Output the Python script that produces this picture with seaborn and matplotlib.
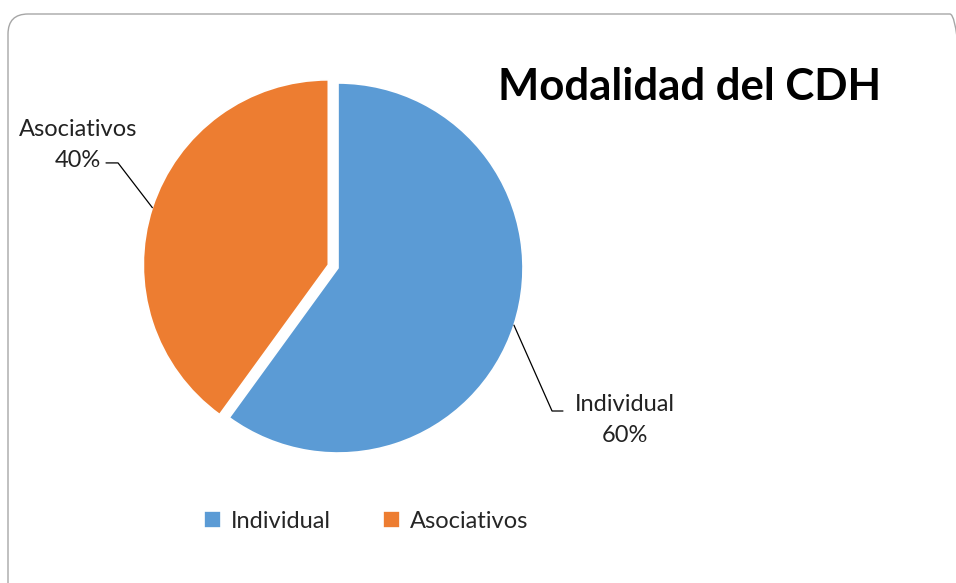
import numpy as np
import seaborn as sns
import matplotlib.pyplot as plt
from matplotlib.patches import FancyBboxPatch

sns.set_theme(style="white")
plt.rcParams['font.family'] = ['Lato', 'DejaVu Sans']

categorias = ["Individual", "Asociativos"]
valores = [60, 40]
colores = ["#5B9BD5", "#ED7D31"]
titulo = "Modalidad del CDH"

fig = plt.figure(figsize=(9.56, 5.83), dpi=100)

# marco redondeado (se sale por la derecha y por abajo)
marco = FancyBboxPatch((8 / 956, 1 - 620 / 583), 962 / 956, 606 / 583,
                       boxstyle="round,pad=0,rounding_size=0.021",
                       mutation_aspect=956 / 583,
                       transform=fig.transFigure, facecolor="none",
                       edgecolor="#A6A6A6", linewidth=1.0, clip_on=False)
fig.patches.append(marco)

ax = fig.add_axes([153 / 956, 130 / 583, 370 / 956, 370 / 583])
explode = [0, 0.055]
wedges, _ = ax.pie(valores, colors=colores, startangle=90, counterclock=False,
                   explode=explode, wedgeprops=dict(edgecolor="white", linewidth=1.2))
ax.set_xlim(-1, 1)
ax.set_ylim(-1, 1)
ax.set_aspect("equal")
ax.axis("off")

# etiquetas con lineas guia
pos_texto = [(1.55, -0.82), (-1.405, 0.665)]
codo = [(1.157, -0.773), (-1.189, 0.568)]
fin = [(1.216, -0.773), (-1.254, 0.568)]
for w, cat, val, e, pt, cd, fn in zip(wedges, categorias, valores, explode, pos_texto, codo, fin):
    ang = np.deg2rad((w.theta1 + w.theta2) / 2)
    r = 1 + e
    x0, y0 = r * np.cos(ang), r * np.sin(ang)
    ax.plot([x0, cd[0], fn[0]], [y0, cd[1], fn[1]], color="black", lw=0.9, clip_on=False)
    ax.text(pt[0], pt[1], f"{cat}\n{val}%", ha="center", va="center",
            fontsize=17, color="#222222", linespacing=1.6, clip_on=False)

fig.text(690 / 956, 1 - 87 / 583, titulo, ha="center", va="center",
         fontsize=31.5, fontweight="bold", color="black")

fig.legend(wedges, categorias, loc="center", bbox_to_anchor=(366 / 956, 1 - 521 / 583),
           ncol=2, frameon=False, fontsize=17, handlelength=0.75, handleheight=0.75,
           handletextpad=0.4, columnspacing=2.2)

fig.savefig("out.png", dpi=100)
